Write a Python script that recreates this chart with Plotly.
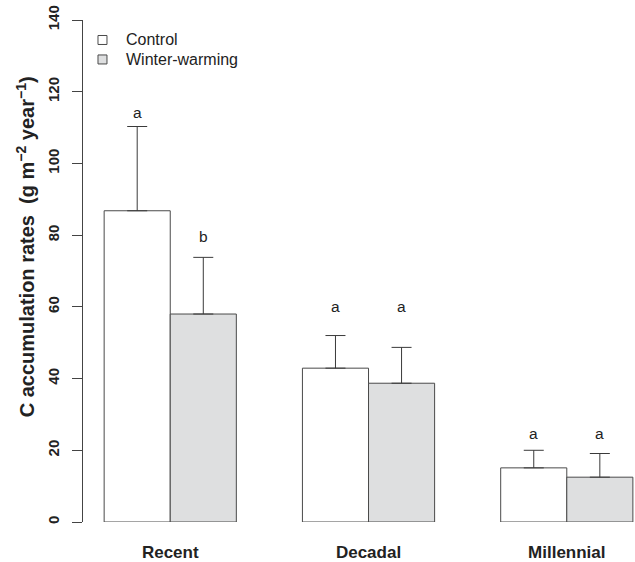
import plotly.graph_objects as go

# Carbon accumulation rates by period and treatment
periods = ["Recent", "Decadal", "Millennial"]
control = [86.8, 42.9, 15.1]
control_se = [23.5, 9.1, 4.9]
warming = [58.0, 38.7, 12.5]
warming_se = [15.8, 10.0, 6.6]
# significance letters and the height they are written at
control_letters = ["a", "a", "a"]
warming_letters = ["b", "a", "a"]
control_letter_y = [114.1, 60.1, 24.8]
warming_letter_y = [79.6, 60.1, 24.8]
y_ticks = [0, 20, 40, 60, 80, 100, 120, 140]
legend_names = ["Control", "Winter-warming"]

# R-style barplot layout: bars of width 1, one empty slot between groups
ctrl_x = [3 * i + 1.5 for i in range(len(periods))]
warm_x = [3 * i + 2.5 for i in range(len(periods))]
grp_x = [3 * i + 2 for i in range(len(periods))]

edge = "#4a4a4a"
fills = ["white", "#dedfe0"]
err_style = dict(type="data", symmetric=False, arrayminus=[0, 0, 0],
                 color="#3a3a3a", thickness=1, width=10)

W, H = 635, 562
M = dict(l=82.5, r=0, t=20, b=39.5)
pw, ph = W - M["l"] - M["r"], H - M["t"] - M["b"]


def px_to_paper(px, py):
    return (px - M["l"]) / pw, (H - M["b"] - py) / ph


fig = go.Figure()
fig.add_trace(go.Bar(
    x=ctrl_x, y=control, width=1, name=legend_names[0], showlegend=False,
    marker=dict(color=fills[0], line=dict(color=edge, width=1)),
    error_y=dict(array=control_se, **err_style)))
fig.add_trace(go.Bar(
    x=warm_x, y=warming, width=1, name=legend_names[1], showlegend=False,
    marker=dict(color=fills[1], line=dict(color=edge, width=1)),
    error_y=dict(array=warming_se, **err_style)))

for xs, ys, letters in [(ctrl_x, control_letter_y, control_letters),
                        (warm_x, warming_letter_y, warming_letters)]:
    for x, y, t in zip(xs, ys, letters):
        fig.add_annotation(x=x, y=y, text=t, showarrow=False,
                           font=dict(size=15.5, color="#222"))

# key in the top-left corner: small boxes with labels
for i, (name, col) in enumerate(zip(legend_names, fills)):
    cy = 40 + 19.5 * i
    x0, y0 = px_to_paper(97.5, cy + 4.5)
    x1, y1 = px_to_paper(106.5, cy - 4.5)
    fig.add_shape(type="rect", xref="paper", yref="paper",
                  x0=x0, y0=y0, x1=x1, y1=y1, fillcolor=col,
                  line=dict(color=edge, width=1))
    tx, ty = px_to_paper(123.5, cy)
    fig.add_annotation(xref="paper", yref="paper", x=tx, y=ty, text=name,
                       xanchor="left", yanchor="middle", showarrow=False,
                       font=dict(size=16, color="#222"))

tx, ty = px_to_paper(25, 247)
fig.add_annotation(
    xref="paper", yref="paper", x=tx, y=ty, xanchor="center", yanchor="middle",
    text="<b>C accumulation rates  (g m<sup>\u22122</sup> year<sup>\u22121</sup>)</b>",
    textangle=-90, showarrow=False, font=dict(size=20, color="#222"))

fig.update_layout(
    width=W, height=H, margin=M,
    plot_bgcolor="white", paper_bgcolor="white",
    barmode="overlay", showlegend=False,
    font=dict(family="Liberation Sans, Arial, sans-serif", color="#222"),
    xaxis=dict(range=[0.68, 9.032], tickmode="array", tickvals=grp_x,
               ticktext=periods, ticks="outside", ticklen=15,
               tickcolor="rgba(0,0,0,0)", showline=False, showgrid=False,
               zeroline=False, tickfont=dict(size=17, weight="bold")),
    yaxis=dict(range=[0, 140], tickmode="array", tickvals=y_ticks,
               ticks="outside", ticklen=10, tickcolor="#444",
               showline=True, linecolor="#444", linewidth=1,
               showgrid=False, zeroline=False, tickangle=-90,
               ticklabelstandoff=7,
               tickfont=dict(size=15, weight="bold")),
)

fig.write_html("out.html")
